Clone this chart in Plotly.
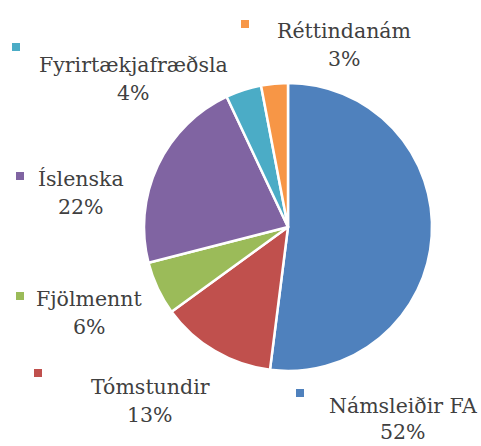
import plotly.graph_objects as go

categories = ["Námsleiðir FA", "Tómstundir", "Fjölmennt", "Íslenska", "Fyrirtækjafræðsla", "Réttindanám"]
values = [52, 13, 6, 22, 4, 3]
colors = ["#4F81BD", "#C0504D", "#9BBB59", "#8064A2", "#4BACC6", "#F79646"]

W, H = 481, 446
# label layout (pixel positions: text center x, first line y, marker x, marker y)
label_pos = {
    "Námsleiðir FA": (403, 406, 300, 393),
    "Tómstundir": (150, 387, 38, 373),
    "Fjölmennt": (89, 299, 20, 296),
    "Íslenska": (81, 179, 20, 176),
    "Fyrirtækjafræðsla": (133, 65, 16, 47),
    "Réttindanám": (344, 31, 245, 24),
}

fig = go.Figure(go.Pie(
    labels=categories, values=values, sort=False, direction="clockwise", rotation=0,
    marker=dict(colors=colors, line=dict(color="white", width=2.5)),
    textinfo="none", hoverinfo="label+percent", showlegend=False,
    domain=dict(x=[144 / W, 432 / W], y=[1 - 371 / H, 1 - 83 / H]),
))

font = dict(family="DejaVu Serif", size=20.5, color="#404040")
annotations = []
shapes = []
total = sum(values)
for cat, val, col in zip(categories, values, colors):
    tx, ty, mx, my = label_pos[cat]
    pct = round(100 * val / total)
    lines = [cat, f"{pct}%"]
    gap = 26 if cat == "Námsleiðir FA" else 28
    for i, line in enumerate(lines):
        annotations.append(dict(
            x=tx / W, y=1 - (ty + gap * i) / H, xref="paper", yref="paper",
            text=line, showarrow=False, font=font,
            xanchor="center", yanchor="middle", align="center",
        ))
    shapes.append(dict(
        type="rect", xref="paper", yref="paper",
        x0=(mx - 4) / W, x1=(mx + 4) / W, y0=1 - (my + 4) / H, y1=1 - (my - 4) / H,
        fillcolor=col, line=dict(width=0),
    ))

fig.update_layout(
    width=W, height=H, margin=dict(l=0, r=0, t=0, b=0),
    paper_bgcolor="white", plot_bgcolor="white",
    annotations=annotations, shapes=shapes,
)
fig.write_html(
    "out.html",
    config={"displayModeBar": False},
    post_script="document.body.style.margin='0';document.body.style.overflow='hidden';",
)
